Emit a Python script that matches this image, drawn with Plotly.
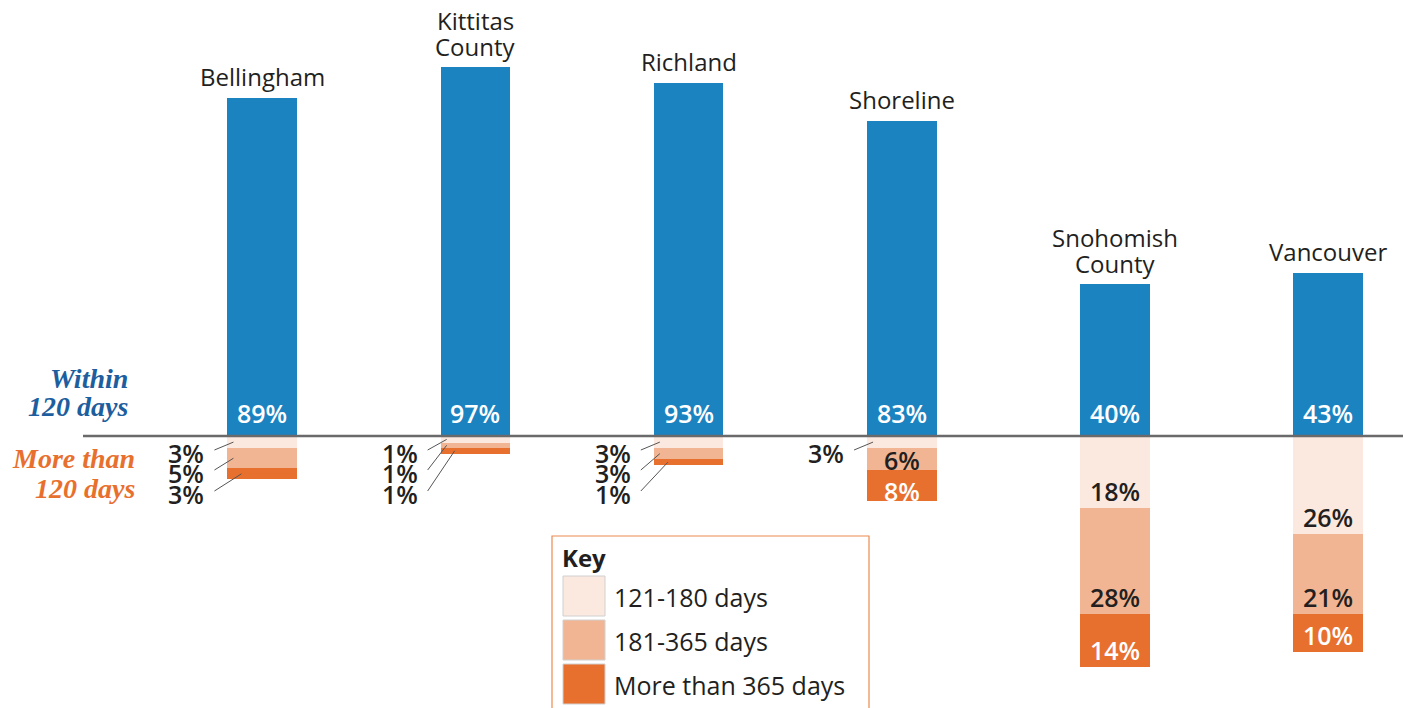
import plotly.graph_objects as go

# ---------------- data ----------------
cities = ["Bellingham", "Kittitas\nCounty", "Richland", "Shoreline", "Snohomish\nCounty", "Vancouver"]
# bar lengths (% of cases) as drawn
within_120 = [89, 97, 93, 83, 40, 43]
days_121_180 = [3.2, 1.8, 3.2, 3.2, 19.0, 25.8]
days_181_365 = [5.3, 1.3, 2.9, 5.8, 27.9, 21.0]
days_365_plus = [2.9, 1.6, 1.6, 8.2, 14.0, 10.0]
# printed percentage labels
within_labels = [89, 97, 93, 83, 40, 43]
label_121_180 = [3, 1, 3, 3, 18, 26]
label_181_365 = [5, 1, 3, 6, 28, 21]
label_365_plus = [3, 1, 1, 8, 14, 10]
key_labels = ["121-180 days", "181-365 days", "More than 365 days"]
side_title_top = ["Within", "120 days"]
side_title_bottom = ["More than", "120 days"]

# ---------------- styling / geometry ----------------
W, H = 1403, 708
BASE_PX = 436          # pixel row of the zero line
PX_PER_PCT = 3.8       # vertical pixels per percentage point
FIRST_PX = 262.2       # pixel column of first bar centre
STEP_PX = 213.2        # pixels between bar centres
BAR_PX = 69.5          # bar width in pixels

BLUE = "#1c83c1"
LIGHT = "#fbe9df"
MID = "#f2b593"
DARK = "#e8702e"
TITLE_BLUE = "#1d5e9e"
TITLE_ORANGE = "#e8702e"
TXT = "#231f20"
SANS = "Open Sans, Noto Sans, sans-serif"
SERIF = "Liberation Serif, DejaVu Serif, serif"

xr = [-FIRST_PX / STEP_PX, (W - FIRST_PX) / STEP_PX]
yr = [-(H - BASE_PX) / PX_PER_PCT, BASE_PX / PX_PER_PCT]
idx = list(range(len(cities)))
bw = BAR_PX / STEP_PX

fig = go.Figure()
fig.add_trace(go.Bar(x=idx, y=within_120, width=bw, marker=dict(color=BLUE, line=dict(width=0)),
                     hoverinfo="skip"))
for vals, col in [(days_121_180, LIGHT), (days_181_365, MID), (days_365_plus, DARK)]:
    fig.add_trace(go.Bar(x=idx, y=[-v for v in vals], width=bw,
                         marker=dict(color=col, line=dict(width=0)), hoverinfo="skip"))

annotations = []
shapes = []

# zero line
shapes.append(dict(type="line", xref="paper", yref="y", x0=83 / W, x1=1, y0=0, y1=0,
                   line=dict(color="#6a6a6a", width=2.5), layer="above"))

# city names above the blue bars
for i, name in enumerate(cities):
    lines = name.split("\n")
    for k, line in enumerate(reversed(lines)):
        annotations.append(dict(x=i, y=within_120[i], xref="x", yref="y", text=line, showarrow=False,
                                yanchor="middle", xanchor="center", yshift=21 + 26 * k,
                                font=dict(family=SANS, size=24, color=TXT)))

# blue percentage labels
for i, v in enumerate(within_labels):
    annotations.append(dict(x=i, y=0, xref="x", yref="y", text=f"{v}%", showarrow=False,
                            yanchor="middle", xanchor="center", yshift=23,
                            font=dict(family=SANS, size=25, color="white", weight=600)))

# segment labels below the line
OUT_ROWS = [17, 37, 58]
LINE_END_X = [6, 6, 14]
for i in idx:
    segs = [(days_121_180[i], label_121_180[i], TXT),
            (days_181_365[i], label_181_365[i], TXT),
            (days_365_plus[i], label_365_plus[i], "white")]
    total_more = sum(s[0] for s in segs)
    cum = 0.0
    for k, (v, lab, tcol) in enumerate(segs):
        top = -cum
        bottom = -(cum + v)
        cum += v
        seg_px = v * PX_PER_PCT
        outside = total_more < 12 or v < 4
        if outside:
            annotations.append(dict(x=i, y=0, xref="x", yref="y", text=f"{lab}%", showarrow=False,
                                    xanchor="right", yanchor="middle",
                                    xshift=-(BAR_PX / 2 + 21), yshift=-OUT_ROWS[k],
                                    font=dict(family=SANS, size=25, color=TXT, weight=600)))
            x_start = i + (-BAR_PX / 2 - 13) / STEP_PX
            y_start = -(OUT_ROWS[k] - 3) / PX_PER_PCT
            x_end = i + (-BAR_PX / 2 + LINE_END_X[k]) / STEP_PX
            y_end = (top + bottom) / 2
            shapes.append(dict(type="line", xref="x", yref="y", x0=x_start, y0=y_start,
                               x1=x_end, y1=y_end, line=dict(color="#555555", width=1),
                               layer="above"))
        else:
            annotations.append(dict(x=i, y=bottom, xref="x", yref="y", text=f"{lab}%", showarrow=False,
                                    xanchor="center", yanchor="middle",
                                    yshift=17 if seg_px >= 35 else 10,
                                    font=dict(family=SANS, size=25, color=tcol, weight=600)))

# side titles
for text, cy in zip(side_title_top, [378, 406]):
    annotations.append(dict(x=130 / W, y=1 - cy / H, xref="paper", yref="paper", text=text,
                            showarrow=False, xanchor="right", yanchor="middle",
                            font=dict(family=SERIF, size=28, color=TITLE_BLUE, weight="bold",
                                      style="italic")))
for text, cy in zip(side_title_bottom, [458, 488]):
    annotations.append(dict(x=137 / W, y=1 - cy / H, xref="paper", yref="paper", text=text,
                            showarrow=False, xanchor="right", yanchor="middle",
                            font=dict(family=SERIF, size=28, color=TITLE_ORANGE, weight="bold",
                                      style="italic")))

# key box
shapes.append(dict(type="rect", xref="paper", yref="paper", x0=552 / W, x1=869 / W,
                   y0=1 - 536 / H, y1=-0.05, line=dict(color="#ec8a4f", width=1.2),
                   fillcolor="white", layer="above"))
annotations.append(dict(x=560 / W, y=1 - 557 / H, xref="paper", yref="paper", text="Key",
                        showarrow=False, xanchor="left", yanchor="middle",
                        font=dict(family=SANS, size=24, color=TXT, weight="bold")))
for k, (lab, col) in enumerate(zip(key_labels, [LIGHT, MID, DARK])):
    row_top = 576 + 44 * k
    shapes.append(dict(type="rect", xref="paper", yref="paper", x0=563 / W, x1=605 / W,
                       y0=1 - row_top / H, y1=1 - (row_top + 40) / H,
                       line=dict(color="#d0d0d0", width=1), fillcolor=col, layer="above"))
    annotations.append(dict(x=612 / W, y=1 - (row_top + 21) / H, xref="paper", yref="paper",
                            text=lab, showarrow=False, xanchor="left", yanchor="middle",
                            font=dict(family=SANS, size=25, color=TXT)))

fig.update_layout(
    width=W, height=H, margin=dict(l=0, r=0, t=0, b=0),
    paper_bgcolor="white", plot_bgcolor="white",
    barmode="relative", bargap=0, showlegend=False,
    xaxis=dict(range=xr, visible=False, fixedrange=True),
    yaxis=dict(range=yr, visible=False, fixedrange=True),
    annotations=annotations, shapes=shapes,
)
fig.write_html("out.html")
